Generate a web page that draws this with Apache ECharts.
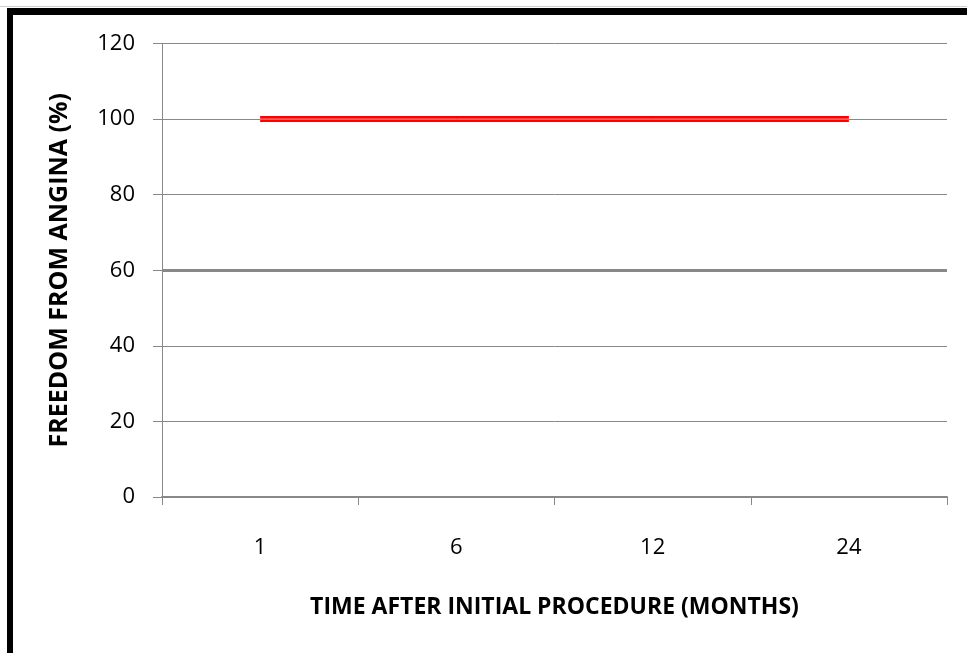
<!DOCTYPE html>
<html>
<head>
<meta charset="utf-8">
<script src="https://cdn.jsdelivr.net/npm/echarts@6/dist/echarts.min.js"></script>
<style>
html,body{margin:0;padding:0;background:#fff;}
#chart{width:967px;height:653px;}
</style>
</head>
<body>
<div id="chart"></div>
<script>
var categories = ['1', '6', '12', '24'];
var freedomValues = [100, 100, 100, 100];
var yTicks = [0, 20, 40, 60, 80, 100, 120];
var highlightGrid = 60;

var chart = echarts.init(document.getElementById('chart'));
var font = '"Open Sans", "Liberation Sans", sans-serif';
chart.setOption({
  animation: false,
  backgroundColor: '#fff',
  grid: {left: 162, top: 43.5, right: 20, bottom: 156, containLabel: false},
  xAxis: {
    type: 'category',
    data: categories,
    boundaryGap: true,
    name: 'TIME AFTER INITIAL PROCEDURE (MONTHS)',
    nameLocation: 'middle',
    nameGap: 99,
    nameTextStyle: {fontFamily: font, fontWeight: 'bold', fontSize: 23, color: '#000'},
    axisLine: {lineStyle: {color: '#888', width: 2}},
    axisTick: {show: true, length: 8, lineStyle: {color: '#888', width: 1}},
    axisLabel: {fontFamily: font, fontSize: 22, color: '#000', margin: 40},
    splitLine: {show: false}
  },
  yAxis: {
    type: 'value',
    min: yTicks[0],
    max: yTicks[yTicks.length - 1],
    interval: 20,
    name: 'FREEDOM FROM ANGINA (%)',
    nameLocation: 'middle',
    nameGap: 90,
    nameRotate: 90,
    nameTextStyle: {fontFamily: font, fontWeight: 'bold', fontSize: 25, color: '#000'},
    axisLine: {show: true, lineStyle: {color: '#888', width: 1}},
    axisTick: {show: true, length: 9, lineStyle: {color: '#888', width: 1}},
    axisLabel: {fontFamily: font, fontSize: 22, color: '#000', margin: 27},
    splitLine: {show: true, lineStyle: {color: '#888', width: 1}}
  },
  series: [
    {
      type: 'line',
      data: freedomValues,
      symbol: 'none',
      lineStyle: {color: '#ff0000', width: 6, cap: 'butt'},
      z: 3,
      markLine: {
        silent: true,
        symbol: ['none', 'none'],
        label: {show: false},
        lineStyle: {color: '#888', width: 3, type: 'solid'},
        data: [{yAxis: highlightGrid}]
      }
    },
    {
      type: 'line',
      data: freedomValues,
      symbol: 'none',
      lineStyle: {color: '#ffa8a0', width: 1, cap: 'butt'},
      z: 4
    }
  ],
  graphic: [
    {type: 'rect', shape: {x: 0, y: 6, width: 967, height: 1}, style: {fill: '#cfcfcf'}, silent: true},
    {type: 'rect', shape: {x: 7, y: 8, width: 960, height: 7}, style: {fill: '#000'}, silent: true},
    {type: 'rect', shape: {x: 7, y: 8, width: 6, height: 645}, style: {fill: '#000'}, silent: true}
  ]
});
</script>
</body>
</html>
